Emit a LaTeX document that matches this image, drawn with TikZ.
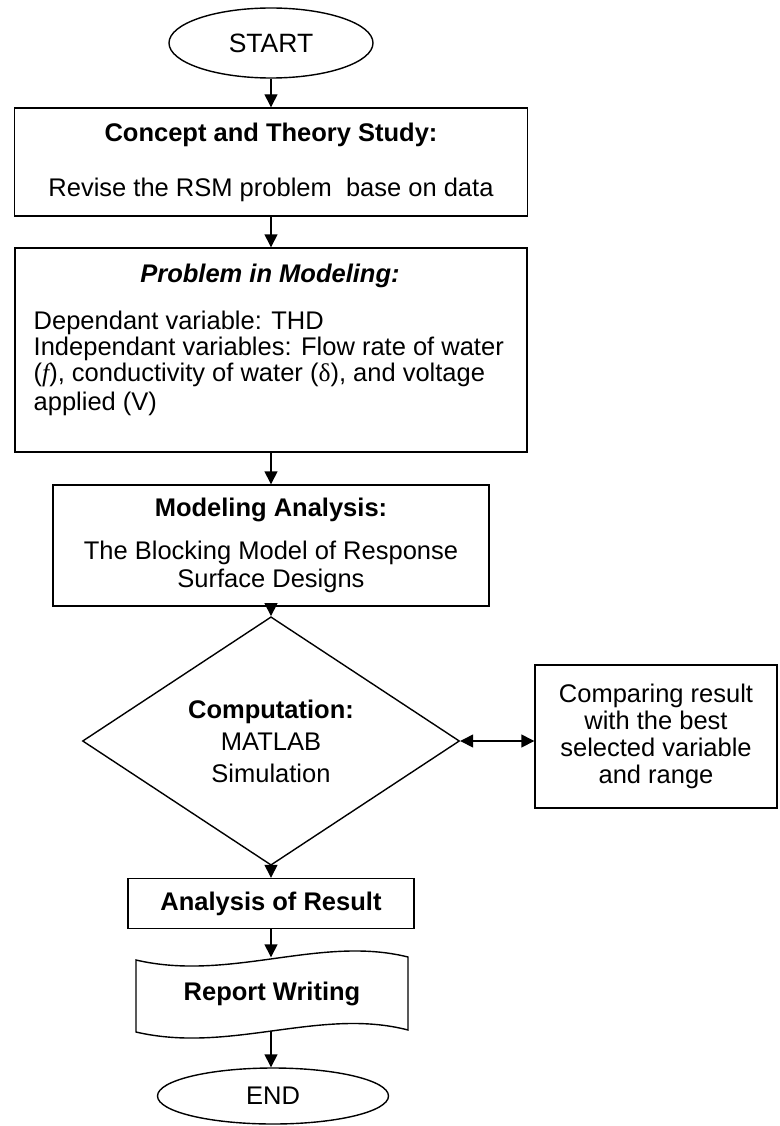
\documentclass[tikz,border=0pt]{standalone}
\usepackage{fontspec}
\setmainfont{Liberation Sans}
\newfontfamily\serifsym{Liberation Serif}
\usetikzlibrary{shapes.geometric,arrows.meta}
\begin{document}
\begin{tikzpicture}[x=1pt,y=-1pt,line width=1.4pt,
  every node/.style={font=\fontsize{25.5}{26}\selectfont},
  box/.style={draw,rectangle,inner sep=0pt},
  term/.style={draw,ellipse,inner sep=0pt},
  txt/.style={inner sep=0pt,anchor=base west},
  tip/.tip={Triangle[length=13pt,width=13pt]},
  arr/.style={-tip},
  darr/.style={tip-tip}]
\useasboundingbox (0,0) rectangle (779,1126);

\node[term,minimum width=204pt,minimum height=70pt,font=\fontsize{26.5}{27}\selectfont] (start) at (271,43) {START};

\node[box,minimum width=513pt,minimum height=108pt,align=center] (concept) at (271,162)
  {\textbf{Concept and Theory Study:}\\[29pt]Revise the RSM problem\ \ base on data};

\node[box,minimum width=512pt,minimum height=204pt] (problem) at (271,350) {};
\node[inner sep=0pt,anchor=base,font=\fontsize{25.5}{26}\selectfont\bfseries\itshape] (ptitle) at (270,282) {Problem in Modeling:};
\node[txt] (pl1) at (33,329) {Dependant variable: THD};
\node[txt] (pl2) at (33,355) {Independant variables: Flow rate of water};
\node[txt] (pl3) at (33,381) {({\serifsym\itshape f}), conductivity of water ({\serifsym δ}), and voltage};
\node[txt] (pl4) at (33,410) {applied (V)};

\node[box,minimum width=436pt,minimum height=121pt,align=center,font=\fontsize{25.5}{28}\selectfont] (model) at (271,545.5)
  {\textbf{Modeling Analysis:}\\[15pt]The Blocking Model of Response\\Surface Designs};

\node[draw,diamond,minimum width=377pt,minimum height=206pt,inner sep=0pt,align=center,font=\fontsize{25.5}{32}\selectfont] (comp) at (271,741)
  {\textbf{Computation:}\\MATLAB\\Simulation};

\node[box,minimum width=242pt,minimum height=143pt,align=center,font=\fontsize{25.5}{27}\selectfont] (compare) at (656,736.5)
  {Comparing result\\with the best\\selected variable\\and range};

\node[box,minimum width=286pt,minimum height=50pt,font=\fontsize{25.5}{26}\selectfont\bfseries] (result) at (271,903.5) {Analysis of Result};

\node[inner sep=0pt,minimum width=272pt,minimum height=72pt,font=\fontsize{25.5}{26}\selectfont\bfseries] (report) at (272,994) {Report Writing};
\draw (136,960) .. controls (230,982) and (320,935) .. (408,957) -- (408,1030)
  .. controls (320,1007) and (230,1054) .. (136,1032) -- cycle;

\node[term,minimum width=231pt,minimum height=56pt] (finish) at (273,1096) {END};

\draw[arr] (start.south) -- (concept.north);
\draw[arr] (concept.south) -- (problem.north);
\draw[arr] (problem.south) -- (model.north);
\draw[arr] (model.south) -- (comp.north);
\draw[arr] (comp.south) -- (result.north);
\draw[arr] (result.south) -- (result.south |- report.north);
\draw[arr] (result.south |- report.south) -- (result.south |- finish.north);
\draw[darr] (comp.east) -- (comp.east -| compare.west);
\end{tikzpicture}
\end{document}
